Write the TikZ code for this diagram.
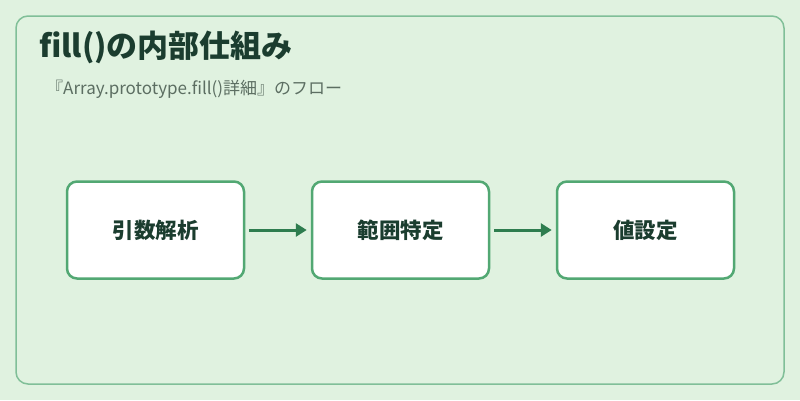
\documentclass[tikz,border=0pt]{standalone}
\usepackage{fontspec}
\setmainfont{Noto Sans CJK JP}
\usepackage{tikz}
\usetikzlibrary{positioning,arrows.meta}
\definecolor{pageBG}{HTML}{E0F2E0}
\definecolor{frameLine}{HTML}{80BF98}
\definecolor{boxLine}{HTML}{52A873}
\definecolor{flowArrow}{HTML}{2E7D4F}
\definecolor{titleInk}{HTML}{1B3D2F}
\definecolor{subInk}{HTML}{5C6E62}

\begin{document}
\begin{tikzpicture}[
  x=1pt,y=-1pt,
  stepbox/.style={draw=boxLine,line width=2.5pt,rounded corners=10pt,fill=white,
    minimum width=177pt,minimum height=97pt,inner sep=0pt,
    font=\fontsize{21.5}{24}\selectfont\bfseries,text=titleInk},
  flow/.style={draw=flowArrow,line width=3pt,-{Triangle[length=11pt,width=13pt]}}
]
% page and frame
\fill[pageBG] (0,0) rectangle (800,400);
\draw[frameLine,line width=1.5pt,rounded corners=12pt] (16,16) rectangle (784,384);
\useasboundingbox (0,0) rectangle (800,400);

% heading
\node[anchor=west,inner sep=0pt,text=titleInk,font=\fontsize{31}{34}\selectfont\bfseries] (title) at (39,47) {fill()の内部仕組み};
\node[anchor=west,inner sep=0pt,text=subInk,font=\fontsize{17}{20}\selectfont] (subtitle) at (46,89) {『Array.prototype.fill()詳細』のフロー};

% steps
\node[stepbox] (parse) at (155.5,230) {引数解析};
\node[stepbox,right=65.5pt of parse] (range) {範囲特定};
\node[stepbox,right=65.5pt of range] (assign) {値設定};

% connectors
\draw[flow] ([xshift=4pt]parse.east) -- ([xshift=-4pt]range.west);
\draw[flow] ([xshift=4pt]range.east) -- ([xshift=-4pt]assign.west);
\end{tikzpicture}
\end{document}
